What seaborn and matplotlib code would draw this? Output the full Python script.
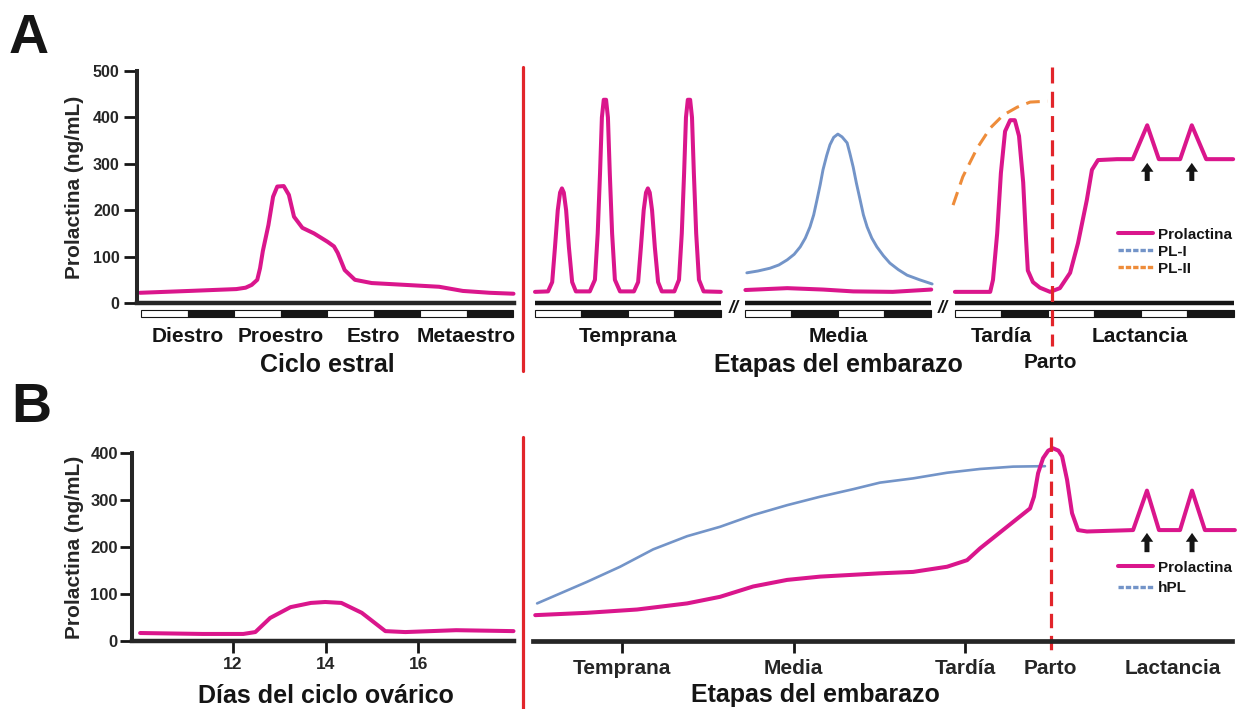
import matplotlib
matplotlib.use("Agg")
import matplotlib.pyplot as plt
import matplotlib.patches as mpatches
from matplotlib.lines import Line2D
import seaborn as sns

# ---------------- datos ----------------
# A: ciclo estral, x en bloques de 12 h (luz / oscuridad)
estral_x = [-0.02, 1.04, 2.05, 2.25, 2.38, 2.50, 2.56, 2.62, 2.74, 2.84, 2.93, 3.07, 3.18, 3.29,
            3.47, 3.72, 4.01, 4.15, 4.23, 4.38, 4.60, 4.96, 5.69, 6.41, 6.92, 7.50, 8.01]
estral_prl = [22, 26, 30, 33, 39, 50, 75, 112, 168, 229, 251, 252, 233, 186,
              162, 150, 132, 122, 108, 71, 50, 43, 39, 35, 26, 22, 20]
estral_fases = ['Diestro', 'Proestro', 'Estro', 'Metaestro']
estral_fases_x = [1, 3, 5, 7]

# A: embarazo (rata), tres tramos con cortes
temprana_x = [0.00, 0.28, 0.37, 0.43, 0.49, 0.54, 0.58, 0.62, 0.67, 0.73, 0.80, 0.88,
              1.18, 1.29, 1.35, 1.40, 1.44, 1.48, 1.53, 1.57, 1.61, 1.66, 1.72, 1.83,
              2.13, 2.22, 2.28, 2.34, 2.39, 2.43, 2.47, 2.52, 2.58, 2.65, 2.73,
              3.00, 3.10, 3.16, 3.21, 3.25, 3.29, 3.34, 3.38, 3.42, 3.47, 3.53, 3.63, 4.00]
temprana_prl = [24, 25, 45, 120, 200, 238, 247, 238, 200, 120, 45, 25,
                25, 50, 150, 280, 400, 438, 438, 400, 280, 150, 50, 25,
                25, 45, 120, 200, 238, 247, 238, 200, 120, 45, 25,
                25, 50, 150, 280, 400, 438, 438, 400, 280, 150, 50, 25, 24]
media_x = [4.53, 5.43, 6.20, 6.85, 7.70, 8.53]
media_prl = [28, 32, 29, 25, 24, 29]
pl1_x = [4.56, 4.80, 5.06, 5.25, 5.43, 5.58, 5.71, 5.82, 5.92, 6.00, 6.07, 6.14, 6.20,
         6.28, 6.35, 6.43, 6.52, 6.61, 6.72, 6.78, 6.85, 6.92, 7.00, 7.07, 7.15, 7.25,
         7.36, 7.50, 7.64, 7.82, 8.01, 8.28, 8.55]
pl1 = [65, 69, 75, 82, 93, 105, 121, 140, 164, 190, 222, 255, 287,
       318, 341, 357, 364, 358, 345, 322, 293, 258, 222, 190, 164, 140,
       121, 102, 86, 72, 60, 50, 41]
tardia_x = [9.04, 9.80, 9.86, 9.95, 10.03, 10.12, 10.23, 10.33, 10.42, 10.51, 10.57,
            10.61, 10.72, 10.87, 11.09, 11.30, 11.52, 11.69, 11.88, 11.99, 12.12,
            12.53, 12.87, 13.18, 13.43, 13.89, 14.14, 14.45, 15.03]
tardia_prl = [24, 24, 50, 150, 280, 370, 394, 394, 360, 260, 140,
              70, 45, 33, 24, 32, 65, 129, 222, 287, 308,
              310, 310, 383, 310, 310, 383, 310, 310]
pl2_x = [9.00, 9.21, 9.52, 9.80, 10.08, 10.38, 10.66, 11.04]
pl2 = [211, 272, 334, 377, 405, 422, 433, 435]
rata_etapas = ['Temprana', 'Media', 'Tardía', 'Lactancia']
rata_etapas_x = [2.0, 6.52, 10.05, 13.02]
rata_parto_x = 11.12
rata_succion_x = [13.18, 14.14]

# B: ciclo ovárico (humano)
ovario_dia = [9.99, 11.34, 12.22, 12.48, 12.80, 13.24, 13.68, 13.99, 14.34, 14.78,
              15.29, 15.72, 16.82, 18.06]
ovario_prl = [17, 15, 15, 19, 49, 72, 81, 83, 81, 60, 21, 19, 23, 21]

# B: embarazo (humano)
humano_x = [0.493, 0.796, 1.087, 1.379, 1.571, 1.764, 1.962, 2.155, 2.504, 2.697,
            2.895, 3.012, 3.087, 3.245, 3.379, 3.402, 3.426, 3.455, 3.485, 3.513, 3.545, 3.566,
            3.595, 3.624, 3.659, 3.711, 3.980, 4.061, 4.131, 4.254, 4.324, 4.399, 4.574]
humano_prl = [55, 60, 67, 80, 94, 116, 130, 137, 144, 147,
              158, 172, 197, 243, 282, 307, 357, 389, 405, 410, 405, 393,
              343, 272, 236, 233, 236, 320, 236, 236, 320, 236, 236]
hpl_x = [0.504, 0.796, 0.988, 1.181, 1.379, 1.571, 1.764, 1.962, 2.155, 2.347,
         2.504, 2.697, 2.895, 3.087, 3.280, 3.466]
hpl = [80, 126, 158, 195, 223, 243, 268, 289, 307, 323,
       337, 346, 358, 366, 371, 372]
humano_etapas = ['Temprana', 'Media', 'Tardía']
humano_etapas_x = [1, 2, 3]
humano_extra = ['Parto', 'Lactancia']
humano_extra_x = [3.50, 4.21]
humano_succion_x = [4.061, 4.324]

PINK = '#DA168C'
BLUE = '#7394C8'
ORANGE = '#EE8C3A'
RED = '#E2252B'
INK = '#151515'

sns.set_style('ticks')
plt.rcParams['font.family'] = ['Liberation Sans', 'DejaVu Sans']
plt.rcParams['font.weight'] = 'bold'
plt.rcParams['axes.labelweight'] = 'bold'
plt.rcParams['text.color'] = INK

W, H = 1242, 709
fig = plt.figure(figsize=(W / 100, H / 100), dpi=100)


def eje(izq, der, arriba, abajo):
    return fig.add_axes([izq / W, 1 - abajo / H, (der - izq) / W, (abajo - arriba) / H])


def linea(ax, x, y, color, lw=2.9, **kw):
    sns.lineplot(x=x, y=y, ax=ax, color=color, lw=lw, estimator=None, sort=False,
                 legend=False, solid_joinstyle='round', solid_capstyle='round',
                 clip_on=False, **kw)


def bloques(ax, x0, n, y0, alto):
    for i in range(n):
        ax.add_patch(mpatches.Rectangle((x0 + i, y0), 1, alto,
                                        facecolor='white' if i % 2 == 0 else INK,
                                        edgecolor=INK, lw=0.8, clip_on=False))


def flechas(ax, xs, y0, y1):
    for xf in xs:
        ax.annotate('', xy=(xf, y1), xytext=(xf, y0), annotation_clip=False,
                    arrowprops=dict(arrowstyle='simple,head_length=0.32,head_width=0.45,tail_width=0.18',
                                    fc=INK, ec='none', shrinkA=0, shrinkB=0, mutation_scale=20))


lab = dict(fontsize=15, fontweight='bold', ha='center', va='baseline')
tit = dict(fontsize=18, fontweight='bold', ha='center', va='baseline')

# ---------- A izquierda: ciclo estral ----------
ax = eje(137, 513.5, 71, 303)
linea(ax, estral_x, estral_prl, PINK)
ax.set_xlim(-0.086, 8.01)
ax.set_ylim(0, 500)
sns.despine(ax=ax)
ax.spines['left'].set_linewidth(2.9)
ax.spines['bottom'].set_linewidth(3.2)
ax.set_xticks([])
ax.set_yticks(range(0, 501, 100))
ax.tick_params(axis='y', left=True, length=9.5, width=2, pad=3, labelsize=11.5, color=INK)
ax.set_ylabel('Prolactina (ng/mL)', fontsize=15)
ax.yaxis.set_label_coords(-0.141, 0.5)
bloques(ax, 0, 8, -30.2, 15.1)
for nombre, xf in zip(estral_fases, estral_fases_x):
    ax.text(xf, -84, nombre, **lab)
ax.text(4.0, -149, 'Ciclo estral', **tit)

# ---------- A derecha: embarazo de rata ----------
ax = eje(535, 535 + 15.04 * 46.45, 71, 303)
ax.set_xlim(0, 15.04)
ax.set_ylim(0, 500)
ax.axis('off')
linea(ax, temprana_x, temprana_prl, PINK)
linea(ax, pl1_x, pl1, BLUE, lw=2.1)
linea(ax, media_x, media_prl, PINK)
linea(ax, pl2_x, pl2, ORANGE, lw=2.2, linestyle=(0, (4.5, 2.6)))
linea(ax, tardia_x, tardia_prl, PINK)
for a, b, n in [(0, 4, 4), (4.52, 8.52, 4), (9.04, 15.04, 6)]:
    ax.hlines(0, a, b, color=INK, lw=3.2, clip_on=False)
    bloques(ax, a, n, -30.2, 15.1)
for xb in [4.27, 8.78]:
    ax.text(xb, -12, '//', fontsize=13, fontweight='bold', fontstyle='italic',
            ha='center', va='center', color=INK)
ax.plot([rata_parto_x, rata_parto_x], [509, -92], color=RED, lw=2.3,
        linestyle=(0, (5, 2.6)), clip_on=False)
flechas(ax, rata_succion_x, 263, 302)
for nombre, xf in zip(rata_etapas, rata_etapas_x):
    ax.text(xf, -84, nombre, **lab)
ax.text(rata_parto_x - 0.03, -140, 'Parto', **lab)
ax.text(6.54, -149, 'Etapas del embarazo', **tit)

fig.legend([Line2D([], [], color=PINK, lw=2.9),
            Line2D([], [], color=BLUE, lw=2.4, ls=(0, (1.6, 0.6))),
            Line2D([], [], color=ORANGE, lw=2.4, ls=(0, (1.6, 0.6)))],
           ['Prolactina', 'PL-I', 'PL-II'], loc='upper left',
           bbox_to_anchor=(1118 / W, 1 - 227.5 / H), frameon=False, borderpad=0,
           borderaxespad=0, handlelength=2.29, handletextpad=0.33, labelspacing=0.2,
           prop=dict(size=11, weight='bold'))

# ---------- B izquierda: ciclo ovárico ----------
ax = eje(131.8, 513.5, 453, 641)
linea(ax, ovario_dia, ovario_prl, PINK)
ax.set_xlim(9.81, 18.06)
ax.set_ylim(0, 400)
sns.despine(ax=ax)
ax.spines['left'].set_linewidth(2.9)
ax.spines['bottom'].set_linewidth(3.2)
ax.set_xticks([12, 14, 16])
ax.set_yticks(range(0, 401, 100))
ax.tick_params(axis='y', left=True, length=8.6, width=2, pad=1.5, labelsize=12, color=INK)
ax.tick_params(axis='x', bottom=True, length=8.6, width=2, pad=3, labelsize=12.5, color=INK)
ax.set_ylabel('Prolactina (ng/mL)', fontsize=15)
ax.yaxis.set_label_coords(-0.125, 0.5)
ax.text(14, -132, 'Días del ciclo ovárico', **tit)

# ---------- B derecha: embarazo humano ----------
ax = eje(533, 1232, 453, 641)
linea(ax, hpl_x, hpl, BLUE, lw=1.9)
linea(ax, humano_x, humano_prl, PINK)
ax.set_xlim(0.48, 4.557)
ax.set_ylim(0, 400)
for s in ['left', 'top', 'right']:
    ax.spines[s].set_visible(False)
ax.spines['bottom'].set_linewidth(3.4)
ax.set_yticks([])
ax.set_xticks(humano_etapas_x, labels=humano_etapas)
ax.set_xticks(humano_extra_x, labels=humano_extra, minor=True)
ax.tick_params(axis='x', which='major', bottom=True, length=8.6, width=2, pad=4,
               labelsize=15, color=INK)
ax.tick_params(axis='x', which='minor', bottom=True, length=0, pad=12.6, labelsize=15)
ax.plot([humano_extra_x[0], humano_extra_x[0]], [434, -30], color=RED, lw=2.3,
        linestyle=(0, (4.5, 2.4)), clip_on=False)
flechas(ax, humano_succion_x, 189, 230)
ax.text(2.125, -130, 'Etapas del embarazo', **tit)

fig.legend([Line2D([], [], color=PINK, lw=2.9),
            Line2D([], [], color=BLUE, lw=2.4, ls=(0, (1.6, 0.6)))],
           ['Prolactina', 'hPL'], loc='upper left',
           bbox_to_anchor=(1118 / W, 1 - 560.5 / H), frameon=False, borderpad=0,
           borderaxespad=0, handlelength=2.29, handletextpad=0.33, labelspacing=0.42,
           prop=dict(size=11, weight='bold'))

# separadores y letras de panel
fig.add_artist(Line2D([523 / W, 523 / W], [1 - 67 / H, 1 - 371 / H], color=RED, lw=2.3))
fig.add_artist(Line2D([523 / W, 523 / W], [1 - 437 / H, 0], color=RED, lw=2.3))
fig.text(9 / W, 1 - 53 / H, 'A', fontsize=40, fontweight='bold', va='baseline')
fig.text(11 / W, 1 - 422 / H, 'B', fontsize=40, fontweight='bold', va='baseline')

fig.savefig('out.png', dpi=100, facecolor='white')
